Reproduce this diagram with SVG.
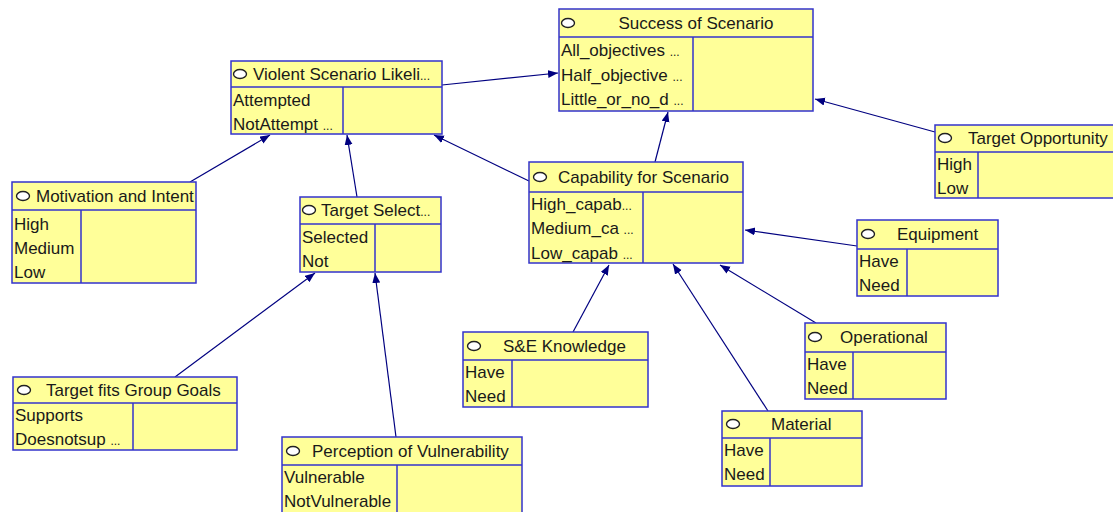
<svg xmlns="http://www.w3.org/2000/svg" width="1113" height="512" viewBox="0 0 1113 512">
<defs>
<marker id="arr" markerUnits="userSpaceOnUse" markerWidth="12" markerHeight="10" refX="10" refY="4" orient="auto">
<path d="M0,0 L10,4 L0,8 z" fill="#000080"/>
</marker>
<style>
.box{fill:#ffff99;stroke:#3333cc;stroke-width:1.5}
.ln{stroke:#3333cc;stroke-width:1.5;fill:none}
.dot{fill:#fff;stroke:#222;stroke-width:1.4}
.t{font-family:"Liberation Sans",Arial,sans-serif;font-size:17px;fill:#1a1a1a}
.e{font-size:12px}
.c{stroke:#000080;stroke-width:1.2;fill:none;marker-end:url(#arr)}
</style>
</defs>
<rect width="1113" height="512" fill="#ffffff"/>
<g id="connectors">
<line class="c" x1="442" y1="85" x2="558" y2="73"/>
<line class="c" x1="655" y1="162" x2="668" y2="112"/>
<line class="c" x1="935" y1="132" x2="815" y2="99"/>
<line class="c" x1="190" y1="182" x2="270" y2="135"/>
<line class="c" x1="357" y1="197" x2="347" y2="135"/>
<line class="c" x1="529" y1="181" x2="434" y2="135"/>
<line class="c" x1="175" y1="377" x2="315" y2="273"/>
<line class="c" x1="396" y1="437" x2="375" y2="273"/>
<line class="c" x1="573" y1="332" x2="609" y2="265"/>
<line class="c" x1="768" y1="411" x2="673" y2="264"/>
<line class="c" x1="816" y1="323" x2="720" y2="265"/>
<line class="c" x1="857" y1="246" x2="745" y2="230"/>
</g>
<g id="violent">
<rect class="box" x="231" y="61" width="211" height="73"/>
<line class="ln" x1="231" y1="87" x2="442" y2="87"/>
<line class="ln" x1="343" y1="87" x2="343" y2="134"/>
<ellipse class="dot" cx="240" cy="74" rx="6.5" ry="4.5"/>
<text class="t" x="253" y="80">Violent Scenario Likeli<tspan class="e">...</tspan></text>
<text class="t" x="233" y="106">Attempted</text>
<text class="t" x="233" y="130">NotAttempt <tspan class="e">...</tspan></text>
</g>
<g id="success">
<rect class="box" x="559" y="9" width="254" height="102"/>
<line class="ln" x1="559" y1="37" x2="813" y2="37"/>
<line class="ln" x1="693" y1="37" x2="693" y2="111"/>
<ellipse class="dot" cx="568" cy="23" rx="6.5" ry="4.5"/>
<text class="t" x="696" y="29" text-anchor="middle">Success of Scenario</text>
<text class="t" x="561" y="56">All_objectives <tspan class="e">...</tspan></text>
<text class="t" x="561" y="81">Half_objective <tspan class="e">...</tspan></text>
<text class="t" x="561" y="105">Little_or_no_d <tspan class="e">...</tspan></text>
</g>
<g id="opportunity">
<rect class="box" x="935" y="125" width="190" height="73"/>
<line class="ln" x1="935" y1="152" x2="1125" y2="152"/>
<line class="ln" x1="978" y1="152" x2="978" y2="198"/>
<ellipse class="dot" cx="945" cy="138" rx="6.5" ry="4.5"/>
<text class="t" x="968" y="144">Target Opportunity</text>
<text class="t" x="937" y="170">High</text>
<text class="t" x="937" y="194">Low</text>
</g>
<g id="motivation">
<rect class="box" x="12" y="182" width="184" height="101"/>
<line class="ln" x1="12" y1="210" x2="196" y2="210"/>
<line class="ln" x1="81" y1="210" x2="81" y2="283"/>
<ellipse class="dot" cx="23" cy="196" rx="6.5" ry="4.5"/>
<text class="t" x="36" y="202">Motivation and Intent</text>
<text class="t" x="14" y="230">High</text>
<text class="t" x="14" y="254">Medium</text>
<text class="t" x="14" y="278">Low</text>
</g>
<g id="targetselect">
<rect class="box" x="300" y="197" width="141" height="75"/>
<line class="ln" x1="300" y1="224" x2="441" y2="224"/>
<line class="ln" x1="375" y1="224" x2="375" y2="272"/>
<ellipse class="dot" cx="309" cy="210" rx="6.5" ry="4.5"/>
<text class="t" x="321" y="216">Target Select<tspan class="e">...</tspan></text>
<text class="t" x="302" y="243">Selected</text>
<text class="t" x="302" y="267">Not</text>
</g>
<g id="capability">
<rect class="box" x="529" y="162" width="214" height="101"/>
<line class="ln" x1="529" y1="192" x2="743" y2="192"/>
<line class="ln" x1="643" y1="192" x2="643" y2="263"/>
<ellipse class="dot" cx="540" cy="177" rx="6.5" ry="4.5"/>
<text class="t" x="558" y="183">Capability for Scenario</text>
<text class="t" x="531" y="210">High_capab<tspan class="e">...</tspan></text>
<text class="t" x="531" y="234">Medium_ca <tspan class="e">...</tspan></text>
<text class="t" x="531" y="259">Low_capab <tspan class="e">...</tspan></text>
</g>
<g id="equipment">
<rect class="box" x="857" y="220" width="141" height="76"/>
<line class="ln" x1="857" y1="249" x2="998" y2="249"/>
<line class="ln" x1="907" y1="249" x2="907" y2="296"/>
<ellipse class="dot" cx="868" cy="234" rx="6.5" ry="4.5"/>
<text class="t" x="897" y="240">Equipment</text>
<text class="t" x="859" y="267">Have</text>
<text class="t" x="859" y="291">Need</text>
</g>
<g id="sneknowledge">
<rect class="box" x="463" y="332" width="185" height="75"/>
<line class="ln" x1="463" y1="360" x2="648" y2="360"/>
<line class="ln" x1="512" y1="360" x2="512" y2="407"/>
<ellipse class="dot" cx="474" cy="346" rx="6.5" ry="4.5"/>
<text class="t" x="503" y="352">S&amp;E Knowledge</text>
<text class="t" x="465" y="378">Have</text>
<text class="t" x="465" y="402">Need</text>
</g>
<g id="targetfits">
<rect class="box" x="13" y="377" width="224" height="73"/>
<line class="ln" x1="13" y1="403" x2="237" y2="403"/>
<line class="ln" x1="133" y1="403" x2="133" y2="450"/>
<ellipse class="dot" cx="24" cy="390" rx="6.5" ry="4.5"/>
<text class="t" x="46" y="396">Target fits Group Goals</text>
<text class="t" x="15" y="421">Supports</text>
<text class="t" x="15" y="445">Doesnotsup <tspan class="e">...</tspan></text>
</g>
<g id="perception">
<rect class="box" x="282" y="437" width="240" height="80"/>
<line class="ln" x1="282" y1="465" x2="522" y2="465"/>
<line class="ln" x1="397" y1="465" x2="397" y2="517"/>
<ellipse class="dot" cx="293" cy="451" rx="6.5" ry="4.5"/>
<text class="t" x="312" y="457">Perception of Vulnerability</text>
<text class="t" x="284" y="483">Vulnerable</text>
<text class="t" x="284" y="507">NotVulnerable</text>
</g>
<g id="material">
<rect class="box" x="722" y="411" width="140" height="75"/>
<line class="ln" x1="722" y1="438" x2="862" y2="438"/>
<line class="ln" x1="770" y1="438" x2="770" y2="486"/>
<ellipse class="dot" cx="733" cy="424" rx="6.5" ry="4.5"/>
<text class="t" x="771" y="430">Material</text>
<text class="t" x="724" y="456">Have</text>
<text class="t" x="724" y="480">Need</text>
</g>
<g id="operational">
<rect class="box" x="805" y="323" width="141" height="76"/>
<line class="ln" x1="805" y1="352" x2="946" y2="352"/>
<line class="ln" x1="853" y1="352" x2="853" y2="399"/>
<ellipse class="dot" cx="815" cy="337" rx="6.5" ry="4.5"/>
<text class="t" x="840" y="343">Operational</text>
<text class="t" x="807" y="370">Have</text>
<text class="t" x="807" y="394">Need</text>
</g>
</svg>
